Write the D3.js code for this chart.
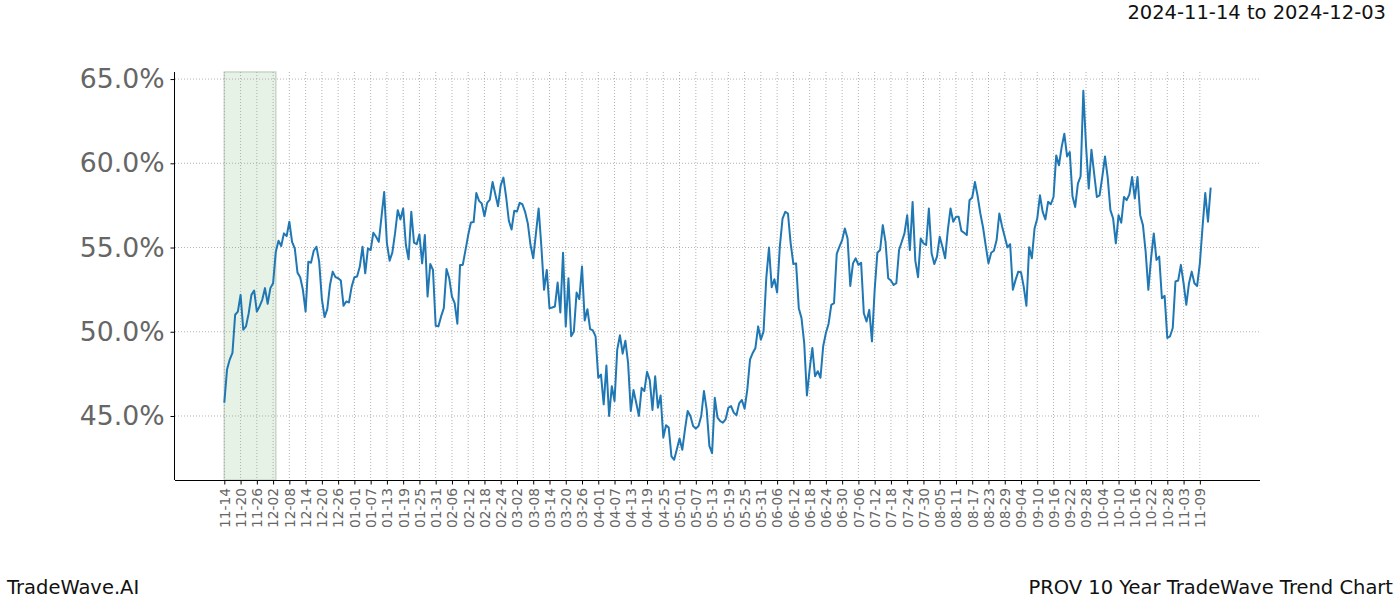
<!DOCTYPE html>
<html>
<head>
<meta charset="utf-8">
<script src="https://cdn.jsdelivr.net/npm/d3@7"></script>
<style>
  html, body { margin: 0; padding: 0; background: #fff; }
  svg { display: block; }
  svg text { font-family: "DejaVu Sans", sans-serif; }
</style>
</head>
<body>
<svg id="chart" width="1400" height="600"></svg>
<script>
// ---- data ----
const startDate = "2024-11-14";          // first daily observation
const highlightStart = "2024-11-14";
const highlightEnd = "2024-12-03";
const titleText = "2024-11-14 to 2024-12-03";
const footerLeft = "TradeWave.AI";
const footerRight = "PROV 10 Year TradeWave Trend Chart";
const yTickValues = [45, 50, 55, 60, 65];
const xTickStepDays = 6;

// daily trend values (%)
const values = [
  45.79, 47.76, 48.35, 48.74, 51.01, 51.2, 52.19, 50.12, 50.32, 51.1,
  52.19, 52.45, 51.2, 51.5, 51.9, 52.59, 51.66, 52.59, 52.88, 54.75,
  55.4, 55.09, 55.84, 55.68, 56.53, 55.34, 54.95, 53.51, 53.24, 52.49,
  51.2, 54.16, 54.1, 54.81, 55.05, 54.16, 51.94, 50.87, 51.34, 52.78,
  53.57, 53.24, 53.18, 53.04, 51.54, 51.8, 51.74, 52.68, 53.24, 53.28,
  53.87, 55.05, 53.47, 54.95, 54.85, 55.88, 55.64, 55.34, 56.82,
  58.3, 55.25, 54.22, 54.7, 55.84, 57.22, 56.67, 57.32, 55.15, 54.3,
  57.12, 55.29, 55.2, 55.78, 54.06, 55.74, 52.09, 54.02, 53.67, 50.36,
  50.32, 50.91, 51.4, 53.73, 53.18, 52.09, 51.7, 50.48, 53.97, 53.97,
  54.85, 55.74, 56.49, 56.51, 58.24, 57.77, 57.61, 56.86, 57.65, 57.85,
  58.89, 58.16, 57.45, 58.69, 59.15, 58.0, 56.59, 56.07, 57.18, 57.14,
  57.65, 57.57, 57.12, 56.43, 55.15, 54.36, 55.84, 57.32, 55.05, 52.49,
  53.67, 51.4,
  51.44, 51.5, 52.92, 51.15, 54.69, 50.32, 53.18, 49.73, 50.02, 52.33,
  51.94, 53.87, 50.67, 51.34, 50.16, 50.08, 49.73, 47.27, 47.46, 45.69,
  47.99, 45.0, 46.77, 45.89, 48.94, 49.79, 48.7, 49.47, 48.15, 45.3,
  46.54, 45.79, 45.0, 46.67, 46.48, 47.62, 47.13, 45.36, 47.36, 45.49,
  46.22, 43.72, 44.45, 44.31, 42.6, 42.4, 43.03, 43.66, 42.99, 44.21,
  45.3, 45.0, 44.41, 44.25, 44.41, 45.0, 46.48, 45.39, 43.23, 42.79,
  46.08,
  44.9, 44.7, 44.6, 44.8, 45.49, 45.59, 45.2, 45.04, 45.75, 45.95,
  45.43, 46.57, 48.35, 48.74, 49.04, 50.32, 49.53, 50.02, 53.18, 55.0,
  52.64, 53.12, 52.33, 55.05, 56.72, 57.12, 57.02, 55.25, 54.02, 54.06,
  51.4, 50.81, 49.33, 46.22, 47.76, 49.04, 47.36, 47.66, 47.27, 49.14,
  49.93, 50.48, 51.6, 51.7, 54.62, 55.05, 55.44, 56.13, 55.54, 52.72,
  54.06, 54.36, 53.97, 54.1, 51.1, 50.61, 51.3, 49.43, 52.49,
  54.69, 54.85, 56.33, 55.34, 53.18, 53.04, 52.78, 52.88, 54.85, 55.34,
  55.84, 56.92, 54.85, 57.71, 54.22, 53.24, 55.54, 55.25, 55.15, 57.32,
  54.66, 54.02, 54.46, 55.64, 55.05, 54.36, 56.03, 57.32, 56.53, 56.82,
  56.82, 55.99, 55.88, 55.74, 57.81, 57.97, 58.89, 58.05, 57.02, 56.19,
  55.09, 54.06, 54.69, 54.81, 55.44, 57.02, 56.27, 55.64, 55.01, 55.2,
  52.49, 53.08, 53.57, 53.53, 52.68, 51.54, 55.01, 54.36, 56.13, 56.72,
  58.1,
  57.12, 56.67, 57.71, 57.57, 58.0, 60.47, 59.88, 60.96, 61.75, 60.41,
  60.67, 58.04, 57.41, 58.79, 59.23, 64.31, 61.06, 58.5, 60.81, 59.38,
  58.0, 58.1, 59.19, 60.41, 59.15, 57.22, 56.72, 55.25, 56.92, 56.47,
  58.0, 57.81, 58.16, 59.19, 57.91, 59.19, 56.92, 56.33, 54.75, 52.49,
  54.36, 55.84, 54.26, 54.46, 51.99, 52.13, 49.63, 49.73, 50.22, 52.98,
  53.04, 53.97, 52.88, 51.6, 52.88, 53.57, 52.88, 52.72, 54.06, 56.23,
  58.24, 56.53, 58.56
];

// ---- layout ----
const margin = { left: 175, right: 140, top: 72, bottom: 120 };
const W = 1400, H = 600;
const plotW = W - margin.left - margin.right;   // 1085
const plotH = H - margin.top - margin.bottom;   // 408
const FONT = "DejaVu Sans, sans-serif";

const svg = d3.select("#chart");
const g = svg.append("g").attr("transform", `translate(${margin.left},${margin.top})`);

const parse = d3.utcParse("%Y-%m-%d");
const t0 = parse(startDate);
const data = values.map((v, i) => ({ date: d3.utcDay.offset(t0, i), value: v }));

const n = values.length - 1;
const padDays = n * 0.05;
const x = d3.scaleUtc()
  .domain([new Date(+t0 - padDays * 864e5), new Date(+data[n].date + padDays * 864e5)])
  .range([0, plotW]);

const y = d3.scaleLinear().domain([41.2, 65.42]).range([plotH, 0]);

// highlight span
g.append("rect")
  .attr("x", x(parse(highlightStart)))
  .attr("y", 0)
  .attr("width", x(parse(highlightEnd)) - x(parse(highlightStart)))
  .attr("height", plotH)
  .attr("fill", "#e5f2e5")
  .attr("stroke", "#c9d6c9")
  .attr("stroke-width", 1.5);

// ticks
const xTicks = d3.range(0, n + 1, xTickStepDays).map(i => d3.utcDay.offset(t0, i));
const fmt = d3.utcFormat("%m-%d");

// grid
g.append("g").selectAll("line").data(xTicks).join("line")
  .attr("x1", d => x(d)).attr("x2", d => x(d))
  .attr("y1", 0).attr("y2", plotH)
  .attr("stroke", "#a0a0a0").attr("stroke-width", 0.8)
  .attr("stroke-dasharray", "1,2");
g.append("g").selectAll("line").data(yTickValues).join("line")
  .attr("x1", 0).attr("x2", plotW)
  .attr("y1", d => y(d)).attr("y2", d => y(d))
  .attr("stroke", "#a0a0a0").attr("stroke-width", 0.8)
  .attr("stroke-dasharray", "1,2");

// line
g.append("path")
  .datum(data)
  .attr("fill", "none")
  .attr("stroke", "#1f77b4")
  .attr("stroke-width", 2)
  .attr("stroke-linejoin", "round")
  .attr("d", d3.line().x(d => x(d.date)).y(d => y(d.value)));

// axes
const xAxis = g.append("g")
  .attr("transform", `translate(0,${plotH})`)
  .call(d3.axisBottom(x).tickValues(xTicks).tickFormat(fmt).tickSize(4.5).tickPadding(4));
xAxis.attr("font-family", FONT);
xAxis.select(".domain").attr("stroke", "#000").attr("stroke-width", 1)
  .attr("d", `M0,0.5H${plotW}`);
xAxis.selectAll(".tick line").attr("stroke", "#000");
xAxis.selectAll(".tick text")
  .attr("fill", "#666")
  .style("font-family", FONT)
  .style("font-size", "13.8px")
  .attr("text-anchor", "end")
  .attr("transform", "rotate(-90)")
  .attr("x", -8)
  .attr("y", 0)
  .attr("dy", "0.35em");

const yAxis = g.append("g")
  .call(d3.axisLeft(y).tickValues(yTickValues).tickFormat(d => d.toFixed(1) + "%").tickSize(4.5).tickPadding(6));
yAxis.attr("font-family", FONT);
yAxis.select(".domain").attr("stroke", "#000").attr("stroke-width", 1)
  .attr("d", `M-0.5,0V${plotH}`);
yAxis.selectAll(".tick line").attr("stroke", "#000");
yAxis.selectAll(".tick text")
  .attr("fill", "#666")
  .style("font-family", FONT)
  .style("font-size", "26.7px");

// texts
svg.append("text").attr("x", 1386).attr("y", 19).attr("text-anchor", "end")
  .style("font-size", "19.5px").attr("fill", "#111").text(titleText);
svg.append("text").attr("x", 7).attr("y", 594)
  .style("font-size", "19.5px").attr("fill", "#111").text(footerLeft);
svg.append("text").attr("x", 1393).attr("y", 594).attr("text-anchor", "end")
  .style("font-size", "19.5px").attr("fill", "#111").text(footerRight);
</script>
</body>
</html>
